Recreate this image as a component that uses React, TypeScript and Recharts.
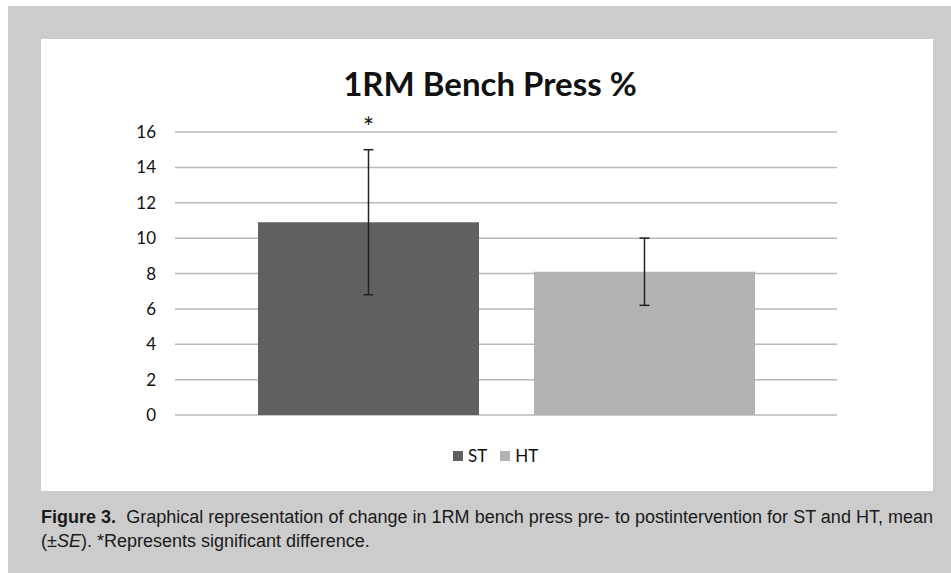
import { Bar, BarChart, CartesianGrid, ErrorBar, XAxis, YAxis } from "recharts"

const categories = ["1RM Bench Press"]
const seriesNames = ["ST", "HT"]
const seriesMeans = [10.9, 8.1]
const seriesErrors = [4.1, 1.9]
const seriesColors = ["#606060", "#b3b3b3"]
const significance = ["*", ""]
const yTicks = [0, 2, 4, 6, 8, 10, 12, 14, 16]

const data = categories.map((name) => {
  const row: Record<string, string | number> = { name }
  seriesNames.forEach((s, i) => {
    row[s] = seriesMeans[i]
    row[s + "_err"] = seriesErrors[i]
  })
  return row
})

const font = "Lato, 'Open Sans', sans-serif"

// star drawn just above the top gridline, using the bar's own scale
const sigLabel = (mark: string, top: number) => (props: any) => {
  const { x, y, width, height, value } = props
  if (!mark) return null
  const perUnit = height / value
  const cy = y + height - top * perUnit + 5
  return (
    <text x={x + width / 2} y={cy} textAnchor="middle" fontFamily={font} fontSize={27} fill="#111">
      {mark}
    </text>
  )
}

export default function App() {
  return (
    <div
      style={{
        position: "absolute",
        left: 8,
        top: 6,
        width: 943,
        height: 567,
        background: "#cccccc",
      }}
    >
      <div
        style={{
          position: "absolute",
          left: 33,
          top: 33,
          width: 892,
          height: 452,
          background: "#ffffff",
        }}
      >
        <div
          style={{
            position: "absolute",
            left: 3,
            top: 24,
            width: 892,
            textAlign: "center",
            fontFamily: font,
            fontWeight: 700,
            fontSize: 33,
            lineHeight: "normal",
            color: "#111",
          }}
        >
          1RM Bench Press %
        </div>
        <BarChart
          width={892}
          height={452}
          data={data}
          margin={{ top: 93, right: 96, bottom: 76, left: 0 }}
          barCategoryGap={83}
          barGap={55}
        >
          <CartesianGrid vertical={false} stroke="#b8b8b8" strokeWidth={1.5} />
          <XAxis dataKey="name" hide />
          <YAxis
            width={134}
            domain={[0, 16]}
            ticks={yTicks}
            axisLine={false}
            tickLine={false}
            tickMargin={13}
            tick={{ fontFamily: font, fontSize: 17, fill: "#111" }}
            interval={0}
          />
          {seriesNames.map((s, i) => (
            <Bar
              key={s}
              dataKey={s}
              fill={seriesColors[i]}
              isAnimationActive={false}
              label={sigLabel(significance[i], 16)}
            >
              <ErrorBar dataKey={s + "_err"} width={5} stroke="#222" strokeWidth={1.5} direction="y" />
            </Bar>
          ))}
        </BarChart>
        {/* legend */}
        <div
          style={{
            position: "absolute",
            left: 412,
            top: 406,
            display: "flex",
            alignItems: "center",
            fontFamily: font,
            fontSize: 17,
            color: "#111",
          }}
        >
          {seriesNames.map((s, i) => (
            <div key={s} style={{ display: "flex", alignItems: "center", marginRight: 13 }}>
              <span
                style={{
                  display: "inline-block",
                  width: 10,
                  height: 10,
                  background: seriesColors[i],
                  marginRight: 5,
                }}
              />
              <span>{s}</span>
            </div>
          ))}
        </div>
      </div>
      <div
        style={{
          position: "absolute",
          left: 33,
          top: 499,
          width: 892,
          fontFamily: "'Liberation Sans', Arial, sans-serif",
          fontSize: 18,
          lineHeight: "24px",
          color: "#1a1a1a",
        }}
      >
        <div style={{ textAlign: "justify", textAlignLast: "justify", whiteSpace: "nowrap" }}>
          <b>Figure 3.</b>&nbsp; Graphical representation of change in 1RM bench press pre- to postintervention for ST and HT, mean
        </div>
        <div>
          (±<i>SE</i>). *Represents significant difference.
        </div>
      </div>
    </div>
  )
}
